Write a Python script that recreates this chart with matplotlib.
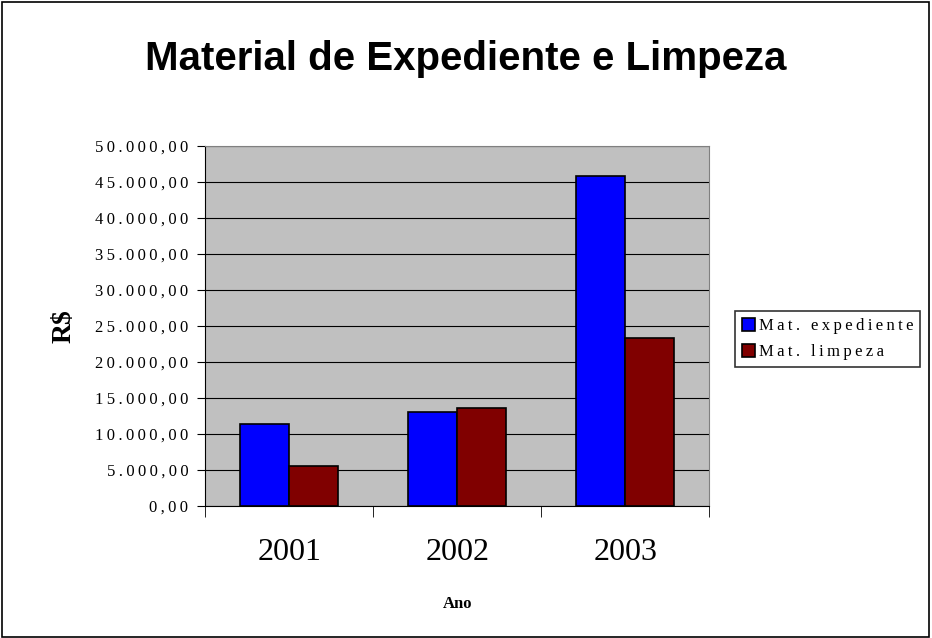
import matplotlib.pyplot as plt
import numpy as np
from matplotlib.patches import Rectangle
from matplotlib.ticker import FuncFormatter, FixedLocator

# dados
anos = ['2001', '2002', '2003']
mat_expediente = [11350, 13050, 45850]
mat_limpeza = [5550, 13600, 23300]
series_nomes = ['Mat. expediente', 'Mat. limpeza']

SERIF = ['Liberation Serif', 'DejaVu Serif']


def espacado(s):
    # espaçamento entre letras, como no gráfico original
    return '\u2009'.join(s)


def fmt_real(v, pos=None):
    s = f"{v:,.2f}"
    s = s.replace(',', 'X').replace('.', ',').replace('X', '.')
    return espacado(s)


fig = plt.figure(figsize=(9.32, 6.38), dpi=100)
fig.patches.append(Rectangle((0.002, 0.002), 0.995, 0.995, transform=fig.transFigure,
                             fill=False, edgecolor='black', linewidth=1.2))

ax = fig.add_axes([0.220, 0.207, 0.541, 0.564])
ax.set_facecolor('#C0C0C0')

x = np.arange(len(anos))
w = 0.29
ax.bar(x - w / 2, mat_expediente, w, color='#0000FF', edgecolor='black', linewidth=1.2,
       label=espacado(series_nomes[0]), zorder=3)
ax.bar(x + w / 2, mat_limpeza, w, color='#800000', edgecolor='black', linewidth=1.2,
       label=espacado(series_nomes[1]), zorder=3)

ax.set_xlim(-0.5, 2.5)
ax.set_ylim(0, 50000)
ax.set_yticks(np.arange(0, 50001, 5000))
ax.yaxis.set_major_formatter(FuncFormatter(fmt_real))
ax.grid(axis='y', color='black', linewidth=0.8, zorder=1)

ax.set_xticks(x)
ax.set_xticklabels(anos, fontsize=23, family=SERIF)
ax.xaxis.set_minor_locator(FixedLocator([-0.5, 0.5, 1.5, 2.5]))
ax.tick_params(axis='x', which='major', length=0, pad=23)
ax.tick_params(axis='x', which='minor', length=8, color='black')
ax.tick_params(axis='y', length=6, labelsize=12, pad=6)
for t in ax.get_yticklabels():
    t.set_family(SERIF)

for s in ['top', 'right']:
    ax.spines[s].set_color('#808080')
ax.spines['left'].set_color('black')
ax.spines['bottom'].set_color('black')

ax.set_ylabel('R$', fontsize=20, fontweight='bold', family=SERIF, labelpad=13)
ax.set_xlabel('Ano', fontsize=12, fontweight='bold', family=SERIF, labelpad=21)

fig.text(0.5, 0.908, 'Material de Expediente e Limpeza', ha='center', va='center',
         fontsize=29, fontweight='bold', family='Liberation Sans')

leg = fig.legend(loc='upper left', bbox_to_anchor=(0.789, 0.512), frameon=True, fancybox=False,
                 prop={'family': SERIF, 'size': 12}, handlelength=0.8,
                 handleheight=0.8, handletextpad=0.2, borderpad=0.4, labelspacing=0.6,
                 borderaxespad=0)
leg.get_frame().set_edgecolor('black')
leg.get_frame().set_linewidth(1.2)

fig.savefig('out.png', dpi=100)
